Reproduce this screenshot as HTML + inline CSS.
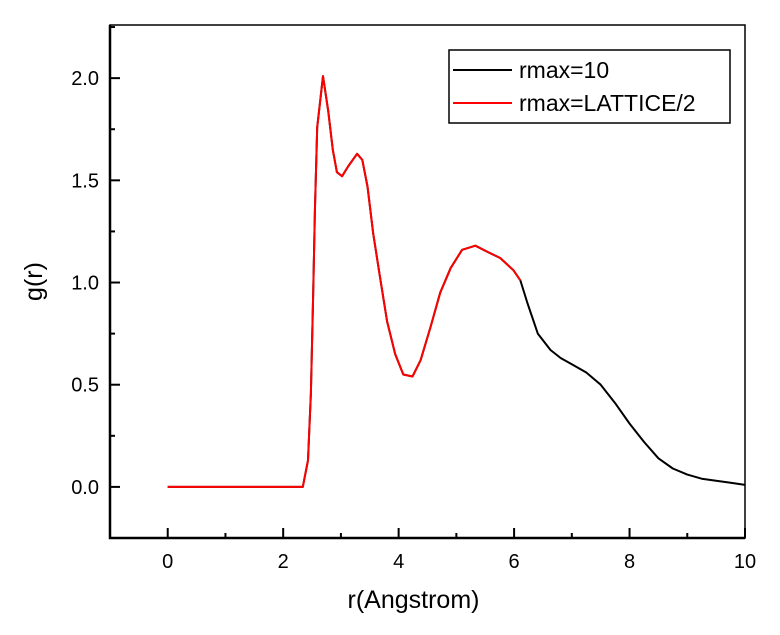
<!DOCTYPE html>
<html><head><meta charset="utf-8"><style>
body{margin:0;background:#fff}
svg{display:block;font-family:"Liberation Sans",Arial,sans-serif}
</style></head><body>
<svg id="chart" width="780" height="635"></svg>
<script>
const rBlack=[0,2.34,2.43,2.48,2.52,2.55,2.59,2.69,2.78,2.86,2.93,3.02,3.13,3.28,3.37,3.46,3.56,3.68,3.80,3.94,4.08,4.24,4.38,4.55,4.72,4.90,5.10,5.33,5.54,5.76,5.99,6.11,6.23,6.41,6.63,6.81,7.0,7.25,7.5,7.75,8.0,8.25,8.5,8.75,9.0,9.25,9.5,9.75,10.0];
const gBlack=[0,0,0.13,0.46,0.95,1.35,1.76,2.01,1.84,1.65,1.54,1.52,1.57,1.63,1.60,1.47,1.24,1.02,0.81,0.65,0.55,0.54,0.62,0.78,0.95,1.07,1.16,1.18,1.15,1.12,1.06,1.01,0.90,0.75,0.67,0.63,0.60,0.56,0.50,0.41,0.31,0.22,0.14,0.09,0.06,0.04,0.03,0.02,0.01];
const rRed=rBlack.slice(0,32);
const gRed=gBlack.slice(0,32);
const xTicks=[0,2,4,6,8,10];
const yTicks=[0,0.5,1.0,1.5,2.0];
const legendLabels=["rmax=10","rmax=LATTICE/2"];

const L=110,R=745,T=25,B=538;
const xMin=-1,xMax=10,yMin=-0.25,yMax=2.26;
const X=v=>L+(v-xMin)/(xMax-xMin)*(R-L);
const Y=v=>B-(v-yMin)/(yMax-yMin)*(B-T);
const svg=document.getElementById('chart');
const NS='http://www.w3.org/2000/svg';
function mk(tag,attrs,parent){const e=document.createElementNS(NS,tag);for(const k in attrs)e.setAttribute(k,attrs[k]);(parent||svg).appendChild(e);return e;}

let f=mk('rect',{x:L,y:T,width:R-L,height:B-T,fill:'none',stroke:'#000','stroke-width':1.5});


let ax=mk('path',{d:`M${L} ${T}V${B}H${R}`,fill:'none',stroke:'#000','stroke-width':2.5});



xTicks.forEach(v=>{
  let t=mk('line',{x1:X(v),x2:X(v),y1:B,y2:B-10,stroke:'#000','stroke-width':2});
  
  
  let m=mk('line',{x1:X(v-1),x2:X(v-1),y1:B,y2:B-5,stroke:'#000','stroke-width':2});
  
  
  let s=mk('text',{x:X(v),y:B+30,'text-anchor':'middle','font-size':20});
  s.textContent=v;
  
  
});
yTicks.forEach(v=>{
  let t=mk('line',{x1:L,x2:L+10,y1:Y(v),y2:Y(v),stroke:'#000','stroke-width':2});
  
  
  let m=mk('line',{x1:L,x2:L+5,y1:Y(v+0.25),y2:Y(v+0.25),stroke:'#000','stroke-width':2});
  
  
  let s=mk('text',{x:L-11,y:Y(v)+7,'text-anchor':'end','font-size':20});
  s.textContent=v.toFixed(1);
  
  
});

function series(rs,gs,color,name){
  const d=rs.map((r,i)=>(i?'L':'M')+X(r).toFixed(1)+' '+Y(gs[i]).toFixed(1)).join('');
  let p=mk('path',{d:d,fill:'none',stroke:color,'stroke-width':2,'stroke-linejoin':'round'});
  
  
}
series(rBlack,gBlack,'#000','series-rmax-10');
series(rRed,gRed,'#f00','series-rmax-lattice-half');

let xt=mk('text',{x:(L+R)/2-14,y:608,'text-anchor':'middle','font-size':25});
xt.textContent='r(Angstrom)';


let yt=mk('text',{x:0,y:0,'text-anchor':'middle','font-size':25,transform:`translate(42,${(T+B)/2}) rotate(-90)`});
yt.textContent='g(r)';



let lg=mk('g',{});


mk('rect',{x:449,y:50,width:281,height:73,fill:'#fff',stroke:'#000','stroke-width':1.5},lg);
['#000','#f00'].forEach((c,i)=>{
  const y=70+i*33;
  let ln=mk('line',{x1:453,x2:512,y1:y,y2:y,stroke:c,'stroke-width':2},lg);
  
  
  let tx=mk('text',{x:519,y:y+8,'font-size':23},lg);
  tx.textContent=legendLabels[i];
  
  
});
</script>
</body></html>
